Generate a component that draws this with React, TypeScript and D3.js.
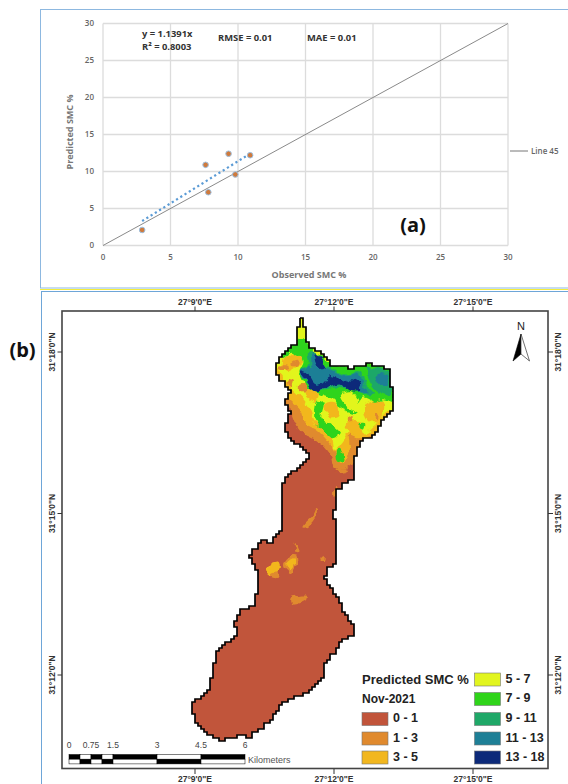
import React from 'react';
import * as d3 from 'd3';

// ---- panel (a) data
const observed = [2.9, 7.6, 7.8, 9.3, 9.8, 10.9];
const predicted = [2.1, 10.9, 7.2, 12.4, 9.6, 12.2];
const axisTicks = [0, 5, 10, 15, 20, 25, 30];
const trendSlope = 1.1391;
const trendFrom = 2.9;
const trendTo = 10.9;

// ---- panel (b) data
const legendRanges = ['0 - 1', '1 - 3', '3 - 5', '5 - 7', '7 - 9', '9 - 11', '11 - 13', '13 - 18'];
const legendColors = ['#c1543a', '#e08a2e', '#f2b71f', '#e2f51f', '#2fd41a', '#1fa868', '#1e7f96', '#0d2a7a'];
const lonTicks = [9, 12, 15];
const latTicks = [18, 15, 12];
const kmStops = [0, 0.375, 0.75, 1.125, 1.5, 3, 4.5, 6];
const kmLabels = [0, 0.75, 1.5, 3, 4.5, 6];

// catchment boundary, digitised in page grid units
const boundary: [number, number][] = [
  [299, 318], [303, 318], [303, 327], [306, 332], [306, 343], [310, 347], [318, 352], [327, 360], [332, 367],
  [345, 367], [347, 370], [357, 365], [370, 364], [382, 367], [391, 371], [391, 387], [393, 388], [393, 410],
  [383, 420], [379, 427], [378, 433], [368, 438], [360, 441], [357, 457], [353, 462], [355, 470], [355, 477],
  [343, 485], [337, 493], [337, 507], [332, 512], [333, 520], [337, 525], [337, 563], [327, 568], [325, 578],
  [330, 587], [337, 598], [343, 613], [353, 625], [353, 635], [343, 640], [333, 655], [325, 665], [322, 680],
  [310, 692], [297, 697], [283, 703], [270, 722], [253, 735], [248, 738], [243, 734], [235, 738], [222, 740],
  [207, 733], [197, 723], [193, 710], [193, 702], [208, 690], [213, 670], [217, 650], [228, 641], [238, 633],
  [234, 622], [240, 610], [253, 605], [259, 585], [258, 573], [255, 563], [250, 555], [260, 541], [270, 542],
  [282, 528], [282, 483], [288, 473], [303, 465], [310, 453], [297, 443], [290, 437], [285, 427], [290, 410],
  [285, 400], [290, 390], [280, 377], [275, 369], [282, 353], [297, 342],
];

// moisture zones of the upper catchment, drawn lowest class first (crop grid units, 3 per px)
const upperZones: { cls: number; pts: number[][] }[] = [
  { cls: 1, pts: [[60, 270], [85, 290], [105, 335], [120, 362], [160, 385], [195, 412], [215, 440], [225, 472], [255, 478], [290, 450], [310, 400], [360, 380], [430, 340], [430, 0], [0, 0], [0, 150]] },
  { cls: 2, pts: [[60, 240], [90, 270], [120, 300], [135, 340], [170, 360], [205, 395], [225, 425], [235, 458], [258, 450], [270, 410], [268, 375], [300, 385], [345, 370], [430, 320], [430, 0], [100, 0], [30, 150]] },
  { cls: 3, pts: [[75, 210], [100, 240], [125, 265], [150, 300], [160, 330], [190, 355], [215, 380], [225, 420], [240, 405], [262, 370], [258, 340], [290, 345], [300, 335], [310, 370], [345, 345], [375, 310], [430, 280], [430, 0], [100, 0], [50, 150]] },
  { cls: 2, pts: [[192, 285], [225, 280], [238, 315], [215, 322], [198, 310]] },
  { cls: 2, pts: [[315, 280], [365, 270], [372, 300], [345, 340], [320, 325]] },
  { cls: 2, pts: [[265, 330], [300, 340], [300, 380], [270, 375]] },
  { cls: 2, pts: [[140, 225], [175, 250], [165, 275], [135, 255]] },
  { cls: 2, pts: [[70, 150], [110, 130], [130, 150], [100, 175], [75, 185]] },
  { cls: 1, pts: [[262, 318], [280, 320], [278, 333], [262, 332]] },
  { cls: 1, pts: [[345, 310], [355, 312], [352, 330], [342, 328]] },
  { cls: 1, pts: [[270, 392], [292, 395], [285, 412], [270, 408]] },
  { cls: 1, pts: [[118, 225], [140, 225], [138, 245], [120, 245]] },
  { cls: 1, pts: [[58, 165], [82, 165], [80, 178], [60, 178]] },
  { cls: 1, pts: [[80, 208], [98, 212], [92, 228], [80, 224]] },
  { cls: 1, pts: [[95, 155], [115, 150], [112, 165], [98, 168]] },
  { cls: 4, pts: [[62, 130], [100, 100], [130, 85], [150, 105], [200, 150], [250, 172], [330, 160], [395, 178], [402, 275], [370, 268], [340, 272], [310, 262], [290, 282], [262, 248], [240, 252], [250, 275], [270, 295], [290, 312], [260, 305], [235, 290], [220, 265], [190, 255], [160, 240], [128, 215], [118, 185], [130, 150], [95, 128], [70, 145]] },
  { cls: 4, pts: [[170, 270], [190, 280], [185, 325], [215, 345], [240, 370], [220, 385], [190, 360], [165, 330]] },
  { cls: 4, pts: [[228, 425], [240, 420], [250, 450], [232, 455]] },
  { cls: 4, pts: [[300, 340], [315, 340], [312, 358], [300, 355]] },
  { cls: 3, pts: [[250, 250], [275, 245], [295, 275], [280, 290], [260, 280]] },
  { cls: 3, pts: [[118, 55], [132, 55], [134, 85], [120, 88]] },
  { cls: 3, pts: [[160, 115], [180, 130], [170, 140], [155, 128]] },
  { cls: 5, pts: [[145, 125], [165, 128], [200, 165], [250, 190], [300, 185], [320, 225], [345, 250], [320, 256], [280, 240], [240, 235], [200, 240], [170, 242], [130, 205], [120, 180], [145, 165]] },
  { cls: 5, pts: [[320, 175], [375, 180], [392, 190], [392, 250], [360, 250], [335, 225]] },
  { cls: 6, pts: [[155, 130], [190, 165], [215, 182], [255, 195], [292, 192], [310, 222], [325, 248], [300, 245], [270, 232], [235, 222], [195, 232], [165, 238], [125, 195], [122, 178], [152, 170]] },
  { cls: 6, pts: [[350, 190], [380, 195], [385, 225], [358, 225]] },
  { cls: 7, pts: [[165, 133], [185, 148], [198, 170], [185, 178], [167, 158]] },
  { cls: 7, pts: [[122, 182], [140, 186], [165, 222], [185, 222], [212, 198], [238, 208], [262, 218], [278, 208], [295, 215], [303, 240], [278, 244], [240, 224], [200, 235], [165, 243], [135, 205]] },
];

// isolated wetter spots in the lower catchment (crop grid units, 3 per px)
const lowerZones: { cls: number; pts: number[][] }[] = [
  { cls: 1, pts: [[375, 160], [400, 135], [410, 115], [408, 140], [385, 170], [370, 172]] },
  { cls: 1, pts: [[460, 60], [470, 45], [472, 65], [462, 85]] },
  { cls: 1, pts: [[345, 220], [352, 225], [358, 245], [348, 245]] },
  { cls: 1, pts: [[312, 282], [345, 252], [352, 272], [337, 308], [320, 298]] },
  { cls: 2, pts: [[322, 282], [342, 265], [342, 285], [332, 298]] },
  { cls: 2, pts: [[262, 290], [295, 275], [298, 300], [275, 320], [262, 305]] },
  { cls: 1, pts: [[275, 310], [295, 305], [297, 322], [275, 322]] },
  { cls: 1, pts: [[332, 385], [378, 375], [378, 390], [335, 403]] },
  { cls: 1, pts: [[425, 265], [433, 262], [433, 272], [425, 272]] },
  { cls: 1, pts: [[470, 0], [505, 0], [490, 10], [475, 8]] },
];

const SANS = "'Liberation Sans', Arial, sans-serif";
const CHART_FONT = "'Open Sans', 'Liberation Sans', sans-serif";

// walks the boundary and snaps it to the raster cell so the edge looks pixelated
function rasterEdge(pts: [number, number][], cell: number) {
  const out: [number, number][] = [];
  pts.forEach((p, i) => {
    const q = pts[(i + 1) % pts.length];
    const n = Math.max(1, Math.round(Math.hypot(q[0] - p[0], q[1] - p[1]) / cell));
    d3.range(n).forEach((k) => {
      out.push([
        Math.round((p[0] + ((q[0] - p[0]) * k) / n) / cell) * cell,
        Math.round((p[1] + ((q[1] - p[1]) * k) / n) / cell) * cell,
      ]);
    });
  });
  out.push(out[0]);
  return out;
}

export default function App() {
  // panel (a) scales
  const x = d3.scaleLinear().domain([0, 30]).range([103, 508]);
  const y = d3.scaleLinear().domain([0, 30]).range([245.5, 23.5]);

  // panel (b) scales
  const lon = d3.scaleLinear().domain([9, 15]).range([195, 473]);
  const lat = d3.scaleLinear().domain([18, 12]).range([352, 675]);
  const km = d3.scaleLinear().domain([0, 6]).range([69, 245]);
  const upperX = d3.scaleLinear().domain([0, 450]).range([260, 410]);
  const upperY = d3.scaleLinear().domain([0, 510]).range([310, 480]);
  const lowerX = d3.scaleLinear().domain([0, 570]).range([180, 370]);
  const lowerY = d3.scaleLinear().domain([0, 840]).range([470, 750]);

  const outlinePath = d3.line().curve(d3.curveStepAfter)(rasterEdge(boundary, 3)) || '';
  const blob = d3.line().curve(d3.curveCatmullRomClosed.alpha(0.5));
  const upperPath = (pts: number[][]) =>
    blob(pts.map((p) => [upperX(p[0]), upperY(p[1])] as [number, number])) || '';
  const lowerPath = (pts: number[][]) =>
    blob(pts.map((p) => [lowerX(p[0]), lowerY(p[1])] as [number, number])) || '';

  const fmtLon = (m: number) => `27°${m}'0"E`;
  const fmtLat = (m: number) => `31°${m}'0"N`;

  const legendRows = [712.5, 732, 751];
  const rightRows = [673, 692.5, 712.5, 732, 751];

  return (
    <svg width={568} height={784} style={{ position: 'absolute', left: 0, top: 0, background: '#fff' }}>
      <defs>
        <clipPath id="catchment">
          <path d={outlinePath} />
        </clipPath>
        <filter id="soft" filterUnits="userSpaceOnUse" x={170} y={300} width={240} height={460}>
          <feGaussianBlur stdDeviation="0.45" />
        </filter>
        {/* roughens the zone edges so they read like classified raster cells */}
        <filter id="rough" filterUnits="userSpaceOnUse" x={170} y={300} width={240} height={460}>
          <feTurbulence type="fractalNoise" baseFrequency="0.13" numOctaves={2} seed={4} result="n" />
          <feDisplacementMap in="SourceGraphic" in2="n" scale={7} xChannelSelector="R" yChannelSelector="G" />
        </filter>
      </defs>

      {/* panel frames */}
      <line x1={40} x2={568} y1={9.5} y2={9.5} stroke="#8db8e0" />
      <line x1={40.5} x2={40.5} y1={9} y2={288} stroke="#8db8e0" />
      <line x1={40} x2={568} y1={288} y2={288} stroke="#8db8e0" />
      <line x1={40} x2={568} y1={289.5} y2={289.5} stroke="#f3ee3a" />
      <line x1={41} x2={568} y1={291.5} y2={291.5} stroke="#6ea6d8" />
      <line x1={41.5} x2={41.5} y1={291} y2={784} stroke="#6ea6d8" />

      {/* panel (a) */}
      <g fontFamily={CHART_FONT}>
        {axisTicks.map((t) => (
          <g key={'grid' + t}>
            <line x1={x(0)} x2={x(30)} y1={y(t)} y2={y(t)} stroke="#dcdcdc" strokeWidth={1.3} />
            <line x1={x(t)} x2={x(t)} y1={y(0)} y2={y(30)} stroke="#dcdcdc" strokeWidth={1.3} />
            <text x={x(t)} y={258} fontSize={8} fontWeight={600} fill="#666" textAnchor="middle" dominantBaseline="middle">{t}</text>
            <text x={94} y={y(t)} fontSize={8} fontWeight={600} fill="#666" textAnchor="end" dominantBaseline="middle">{t}</text>
          </g>
        ))}
        <line x1={x(0)} y1={y(0)} x2={x(30)} y2={y(30)} stroke="#8a8a8a" strokeWidth={1} />
        <line
          x1={x(trendFrom)}
          y1={y(trendFrom * trendSlope)}
          x2={x(trendTo)}
          y2={y(trendTo * trendSlope)}
          stroke="#5b9bd5"
          strokeWidth={2.2}
          strokeDasharray="2.2 2.8"
        />
        {observed.map((o, i) => (
          <circle key={'pt' + i} cx={x(o)} cy={y(predicted[i])} r={2.8} fill="#cf7a3c" stroke="#9dbfe0" strokeWidth={1} />
        ))}
        <text x={142} y={34.5} fontSize={9.4} fontWeight={700} fill="#333" dominantBaseline="middle">y = 1.1391x</text>
        <text x={142} y={47.5} fontSize={9.4} fontWeight={700} fill="#333" dominantBaseline="middle">R² = 0.8003</text>
        <text x={218} y={38.5} fontSize={9.4} fontWeight={700} fill="#333" dominantBaseline="middle">RMSE = 0.01</text>
        <text x={307} y={38.5} fontSize={9.4} fontWeight={700} fill="#333" dominantBaseline="middle">MAE = 0.01</text>
        <text x={309} y={275.5} fontSize={9} fontWeight={700} fill="#777" textAnchor="middle" dominantBaseline="middle">Observed SMC %</text>
        <text
          transform={`translate(71,132) rotate(-90)`}
          fontSize={9}
          fontWeight={700}
          fill="#777"
          textAnchor="middle"
          dominantBaseline="middle"
        >
          Predicted SMC %
        </text>
        <line x1={510} x2={528} y1={151} y2={151} stroke="#777" />
        <text x={531} y={151.5} fontSize={8} fontWeight={600} fill="#666" dominantBaseline="middle">Line 45</text>
        <text x={413} y={227} fontSize={20} fontWeight={700} fill="#111" textAnchor="middle" dominantBaseline="middle">(a)</text>
      </g>

      <text x={22.5} y={352} fontFamily={CHART_FONT} fontSize={20} fontWeight={700} fill="#111" textAnchor="middle" dominantBaseline="middle">(b)</text>

      {/* map frame */}
      <rect x={62} y={311} width={486} height={457.5} fill="none" stroke="#444" strokeWidth={1.6} />

      {/* map */}
      <g filter="url(#soft)">
        <path d={outlinePath} fill={legendColors[0]} />
        <g clipPath="url(#catchment)">
          <g filter="url(#rough)">
            {upperZones.map((z, i) => (
              <path key={'u' + i} d={upperPath(z.pts)} fill={legendColors[z.cls]} />
            ))}
            {lowerZones.map((z, i) => (
              <path key={'l' + i} d={lowerPath(z.pts)} fill={legendColors[z.cls]} />
            ))}
          </g>
        </g>
        <path d={outlinePath} fill="none" stroke="#000" strokeWidth={1.7} />
      </g>

      {/* graticule */}
      <g fontFamily={SANS} fontSize={8.5} fontWeight={700} fill="#333">
        {lonTicks.map((m) => (
          <g key={'lon' + m}>
            <line x1={lon(m)} x2={lon(m)} y1={306.5} y2={311} stroke="#333" />
            <line x1={lon(m)} x2={lon(m)} y1={769} y2={774} stroke="#333" />
            <text x={lon(m)} y={303} textAnchor="middle" dominantBaseline="middle">{fmtLon(m)}</text>
            <text x={lon(m)} y={779.5} textAnchor="middle" dominantBaseline="middle">{fmtLon(m)}</text>
          </g>
        ))}
        {latTicks.map((m) => (
          <g key={'lat' + m}>
            <line x1={57.5} x2={62} y1={lat(m)} y2={lat(m)} stroke="#333" />
            <line x1={548} x2={553} y1={lat(m)} y2={lat(m)} stroke="#333" />
            <text transform={`translate(52.5,${lat(m)}) rotate(-90)`} textAnchor="middle" dominantBaseline="middle">{fmtLat(m)}</text>
            <text transform={`translate(559,${lat(m)}) rotate(-90)`} textAnchor="middle" dominantBaseline="middle">{fmtLat(m)}</text>
          </g>
        ))}
      </g>

      {/* north arrow */}
      <text x={521} y={327} fontFamily={SANS} fontSize={11} fill="#222" textAnchor="middle" dominantBaseline="middle">N</text>
      <path d="M521,334 L513,361 L521,354 Z" fill="#000" stroke="#000" strokeWidth={0.6} />
      <path d="M521,334 L529.5,361 L521,354 Z" fill="#fff" stroke="#333" strokeWidth={0.7} />

      {/* scale bar */}
      <g>
        {kmStops.slice(0, -1).map((s, i) => {
          const x0 = km(s);
          const w = km(kmStops[i + 1]) - x0;
          return (
            <g key={'km' + i}>
              <rect x={x0} y={754.5} width={w} height={4.7} fill={i % 2 ? '#fff' : '#000'} stroke="#000" strokeWidth={0.5} />
              <rect x={x0} y={759.2} width={w} height={4.7} fill={i % 2 ? '#000' : '#fff'} stroke="#000" strokeWidth={0.5} />
            </g>
          );
        })}
        {kmLabels.map((k) => (
          <text key={'kml' + k} x={km(k)} y={746} fontFamily={SANS} fontSize={8.5} fill="#444" textAnchor="middle" dominantBaseline="middle">{k}</text>
        ))}
        <text x={248} y={761} fontFamily={SANS} fontSize={9} fill="#555" dominantBaseline="middle">Kilometers</text>
      </g>

      {/* legend */}
      <g fontFamily={SANS} fontWeight={700} fill="#222">
        <text x={362} y={681} fontSize={13} dominantBaseline="middle">Predicted SMC %</text>
        <text x={362} y={700} fontSize={12} dominantBaseline="middle">Nov-2021</text>
        {legendRanges.map((r, i) => {
          const left = i < 3;
          const rowY = left ? legendRows[i] : rightRows[i - 3];
          const sx = left ? 362 : 474.5;
          return (
            <g key={r}>
              <rect x={sx} y={rowY} width={26} height={13} fill={legendColors[i]} stroke="#777" strokeWidth={0.6} />
              <text x={sx + 31} y={rowY + 6.5} fontSize={12.5} dominantBaseline="middle">{r}</text>
            </g>
          );
        })}
      </g>
    </svg>
  );
}
